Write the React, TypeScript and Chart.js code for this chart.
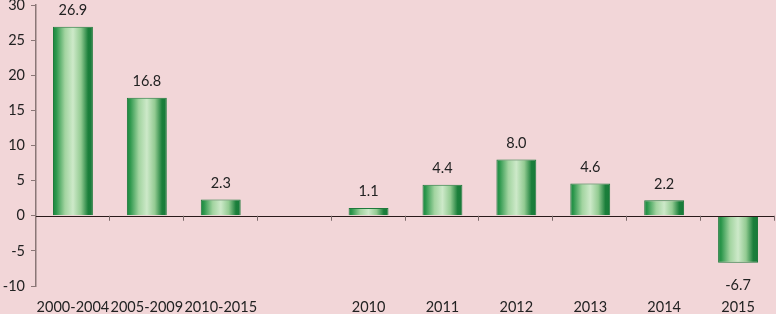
import React, { useEffect, useRef } from "react";
import { Chart, registerables } from "chart.js";

Chart.register(...registerables);

const categories = ["2000-2004", "2005-2009", "2010-2015", "", "2010", "2011", "2012", "2013", "2014", "2015"];
const values: (number | null)[] = [26.9, 16.8, 2.3, null, 1.1, 4.4, 8.0, 4.6, 2.2, -6.7];
const yTicks = [-10, -5, 0, 5, 10, 15, 20, 25, 30];

const FONT = "Lato, 'Open Sans', sans-serif";

export default function App() {
  const ref = useRef<HTMLCanvasElement>(null);
  useEffect(() => {
    document.body.style.margin = "0";
    const canvas = ref.current!;
    const gradFor = (ctx: any) => {
      const chart = ctx.chart;
      const xs = chart.scales?.x;
      if (!chart.chartArea || !xs) return "#3a9a55";
      const cx = xs.getPixelForValue(ctx.dataIndex);
      const w = (chart.chartArea.width / categories.length) * 0.54;
      const g = chart.ctx.createLinearGradient(cx - w / 2, 0, cx + w / 2, 0);
      g.addColorStop(0, "#1a8740");
      g.addColorStop(0.08, "#2c974c");
      g.addColorStop(0.3, "#a2d4a0");
      g.addColorStop(0.5, "#cde9c9");
      g.addColorStop(0.7, "#93cb92");
      g.addColorStop(0.88, "#1b7f3b");
      g.addColorStop(1, "#177a39");
      return g;
    };
    const overlay = {
      id: "overlay",
      afterDatasetsDraw(chart: any) {
        const { ctx, chartArea } = chart;
        const xs = chart.scales.x;
        const ys = chart.scales.y;
        const y0 = ys.getPixelForValue(0);
        ctx.save();
        ctx.strokeStyle = "#2a1a1a";
        ctx.lineWidth = 1;
        ctx.beginPath();
        ctx.moveTo(chartArea.left, Math.round(y0) + 0.5);
        ctx.lineTo(chartArea.right, Math.round(y0) + 0.5);
        ctx.stroke();
        ctx.strokeStyle = "#7a6a6a";
        const step = xs.getPixelForValue(1) - xs.getPixelForValue(0);
        for (let i = 1; i <= categories.length; i++) {
          const x = Math.round(xs.getPixelForValue(i - 1) + step / 2) - 0.5;
          ctx.beginPath();
          ctx.moveTo(x, y0);
          ctx.lineTo(x, y0 + 5);
          ctx.stroke();
        }
        const meta = chart.getDatasetMeta(0);
        ctx.fillStyle = "#222";
        ctx.font = `14.5px ${FONT}`;
        ctx.textAlign = "center";
        meta.data.forEach((el: any, i: number) => {
          const v = values[i];
          if (v == null) return;
          if (v >= 0) {
            ctx.textBaseline = "bottom";
            ctx.fillText(v.toFixed(1), el.x, el.y - 9);
          } else {
            ctx.textBaseline = "top";
            ctx.fillText(v.toFixed(1), el.x, el.y + 15);
          }
        });
        ctx.restore();
      },
    };
    const chart = new Chart(canvas, {
      type: "bar",
      data: {
        labels: categories,
        datasets: [
          {
            data: values,
            backgroundColor: gradFor,
            borderColor: "#1f7a3b",
            borderWidth: 1,
            barPercentage: 0.54,
            categoryPercentage: 1,
          },
        ],
      },
      options: {
        animation: false,
        responsive: false,
        layout: { padding: { top: 5, right: 1, left: 0, bottom: 0 } },
        plugins: { legend: { display: false }, tooltip: { enabled: false } },
        scales: {
          x: {
            grid: { display: false },
            border: { display: false },
            ticks: {
              autoSkip: false,
              maxRotation: 0,
              color: "#222",
              font: { family: FONT, size: 14.5 },
              padding: 5,
            },
            afterFit: (s: any) => {
              s.height = 28;
              s.paddingLeft = 0;
              s.paddingRight = 0;
            },
          },
          y: {
            min: -10,
            max: 30,
            afterBuildTicks: (s: any) => {
              s.ticks = yTicks.map((v) => ({ value: v }));
            },
            grid: {
              drawOnChartArea: false,
              tickLength: 5,
              color: "#8a7676",
            },
            border: { color: "#8a7676", width: 1.5 },
            ticks: {
              color: "#222",
              font: { family: FONT, size: 14.5 },
              padding: 6,
            },
            afterFit: (s: any) => {
              s.width = 36;
              s.paddingTop = 0;
              s.paddingBottom = 0;
            },
          },
        },
      },
      plugins: [overlay],
    });
    return () => chart.destroy();
  }, []);
  return (
    <div style={{ width: 776, height: 314, background: "#f2d6d8" }}>
      <canvas ref={ref} width={776} height={314} style={{ display: "block" }} />
    </div>
  );
}
